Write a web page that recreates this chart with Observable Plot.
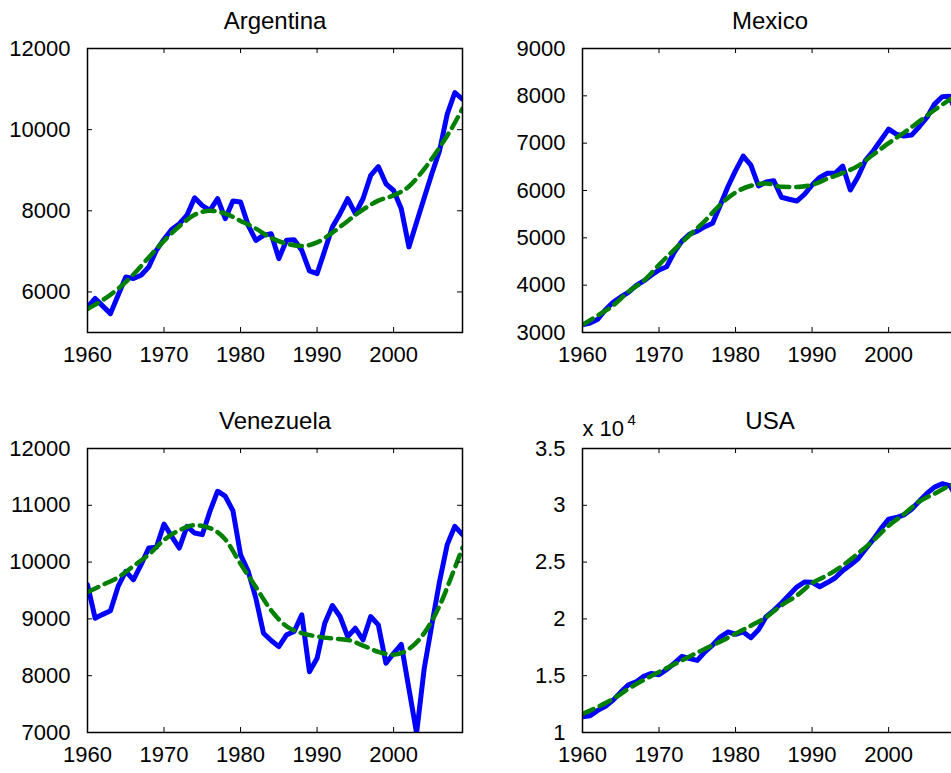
<!DOCTYPE html>
<html>
<head>
<meta charset="utf-8">
<script src="https://cdn.jsdelivr.net/npm/d3@7"></script>
<script src="https://cdn.jsdelivr.net/npm/@observablehq/plot@0.6"></script>
<style>
  html, body { margin: 0; padding: 0; background: #fff; overflow: hidden; width: 951px; height: 773px; }
  #chart { position: relative; width: 951px; height: 773px; overflow: hidden; }
  .panel { position: absolute; }
</style>
</head>
<body>
<div id="chart"></div>
<script>
// Real GDP per capita, 1960–2009 (blue), with smooth trend (green dashed)
const years = [
  1960, 1961, 1962, 1963, 1964, 1965, 1966, 1967, 1968, 1969,
  1970, 1971, 1972, 1973, 1974, 1975, 1976, 1977, 1978, 1979,
  1980, 1981, 1982, 1983, 1984, 1985, 1986, 1987, 1988, 1989,
  1990, 1991, 1992, 1993, 1994, 1995, 1996, 1997, 1998, 1999,
  2000, 2001, 2002, 2003, 2004, 2005, 2006, 2007, 2008, 2009
];

const argentina = [
  5620, 5840, 5650, 5465, 5920, 6370, 6330, 6410, 6615, 7026,
  7300, 7540, 7680, 7890, 8320, 8130, 8010, 8300, 7805, 8240,
  8215, 7640, 7270, 7395, 7436, 6822, 7272, 7288, 7026, 6517,
  6452, 7020, 7600, 7929, 8297, 7929, 8297, 8870, 9090, 8665,
  8500, 8050, 7110, 7715, 8320, 8918, 9480, 10380, 10915, 10750
];

const mexico = [
  3160, 3200, 3280, 3480, 3640, 3750, 3850, 3990, 4090, 4210,
  4320, 4390, 4700, 4930, 5080, 5140, 5236, 5308, 5690, 6080,
  6420, 6728, 6538, 6095, 6180, 6207, 5857, 5815, 5778, 5920,
  6116, 6278, 6363, 6363, 6517, 6010, 6291, 6643, 6840, 7066,
  7297, 7192, 7150, 7171, 7346, 7544, 7825, 7980, 7990, 7550
];

const venezuela = [
  9600, 9012, 9080, 9142, 9571, 9836, 9689, 9954, 10248, 10260,
  10670, 10453, 10248, 10630, 10512, 10483, 10895, 11248, 11160, 10907,
  10130, 9836, 9365, 8747, 8620, 8512, 8719, 8777, 9071, 8071,
  8306, 8924, 9236, 9042, 8689, 8835, 8630, 9042, 8895, 8218,
  8394, 8553, 7770, 6990, 8130, 8900, 9660, 10307, 10630, 10483
];

const usa = [
  11380, 11470, 11950, 12300, 12850, 13550, 14200, 14450, 14950, 15200,
  15080, 15550, 16100, 16700, 16500, 16350, 17100, 17700, 18400, 18850,
  18650, 18850, 18350, 19050, 20200, 20750, 21400, 22100, 22800, 23250,
  23220, 22830, 23200, 23600, 24250, 24750, 25300, 26150, 27000, 27950,
  28780, 28920, 29150, 29650, 30350, 31050, 31600, 31900, 31720, 30600
];

// Trend values, every second year plus the final year
const trendYears = [
  1960, 1962, 1964, 1966, 1968, 1970, 1972, 1974, 1976, 1978, 1980, 1982, 1984,
  1986, 1988, 1990, 1992, 1994, 1996, 1998, 2000, 2002, 2004, 2006, 2008, 2009
];

const argentinaTrend = [
  5580, 5800, 6080, 6430, 6850, 7260, 7620, 7900, 8000, 7930, 7750, 7560, 7330,
  7190, 7130, 7220, 7460, 7750, 8030, 8250, 8380, 8600, 9030, 9560, 10170, 10520
];

const mexicoTrend = [
  3160, 3360, 3570, 3860, 4090, 4430, 4750, 5060, 5360, 5700, 5960, 6100, 6150,
  6080, 6075, 6120, 6250, 6370, 6520, 6760, 7000, 7220, 7460, 7700, 7920, 8020
];

const venezuelaTrend = [
  9470, 9600, 9730, 9930, 10130, 10390, 10560, 10650, 10600, 10400, 9970, 9560, 9150,
  8870, 8750, 8690, 8655, 8630, 8530, 8420, 8370, 8470, 8750, 9230, 9900, 10250
];

const usaTrend = [
  11620, 12250, 12950, 13850, 14620, 15330, 16000, 16700, 17360, 18000, 18700, 19400, 20150,
  21200, 22050, 23150, 23850, 24700, 25760, 26900, 28200, 29220, 30330, 31030, 31720, 31950
];

const xTicks = [1960, 1970, 1980, 1990, 2000];

const argentinaTicks = [6000, 8000, 10000, 12000];
const mexicoTicks = [3000, 4000, 5000, 6000, 7000, 8000, 9000];
const venezuelaTicks = [7000, 8000, 9000, 10000, 11000, 12000];
const usaTicks = [10000, 15000, 20000, 25000, 30000, 35000];

const panels = [
  {title: "Argentina", values: argentina, trend: argentinaTrend, domain: [5000, 12000], ticks: argentinaTicks, left: 0, top: 0},
  {title: "Mexico", values: mexico, trend: mexicoTrend, domain: [3000, 9000], ticks: mexicoTicks, left: 495, top: 0},
  {title: "Venezuela", values: venezuela, trend: venezuelaTrend, domain: [7000, 12000], ticks: venezuelaTicks, left: 0, top: 400},
  {title: "USA", values: usa, trend: usaTrend, domain: [10000, 35000], ticks: usaTicks, left: 495, top: 400, scaled: true}
];

const FONT = "'Liberation Sans', Arial, Helvetica, sans-serif";
const W = 375, H = 284;
const ML = 87, MR = 13, MT = 48, MB = 44;

function panelPlot(p) {
  const series = years.map((year, i) => ({year, value: p.values[i]}));
  const trend = trendYears.map((year, i) => ({year, value: p.trend[i]}));
  const yFormat = p.scaled ? (d => String(d / 1e4)) : (d => String(d));
  const marks = [
    Plot.line(series, {x: "year", y: "value", stroke: "#0000ff", strokeWidth: 5, strokeLinejoin: "round", clip: true}),
    Plot.line(trend, {x: "year", y: "value", stroke: "#008000", strokeWidth: 4.5, strokeDasharray: "12,7", curve: "monotone-x", clip: true}),
    // inward ticks on all four sides of the box
    Plot.tickX(xTicks, {x: d => d, insetTop: H - 5, stroke: "black", strokeWidth: 1}),
    Plot.tickX(xTicks, {x: d => d, insetBottom: H - 5, stroke: "black", strokeWidth: 1}),
    Plot.tickY(p.ticks, {y: d => d, insetRight: W - 5, stroke: "black", strokeWidth: 1}),
    Plot.tickY(p.ticks, {y: d => d, insetLeft: W - 5, stroke: "black", strokeWidth: 1}),
    Plot.frame({stroke: "black", strokeWidth: 1.5}),
    Plot.axisX(xTicks, {tickSize: 0, tickPadding: 14, tickFormat: d => String(d), label: null, fontSize: 22, fill: "black"}),
    Plot.axisY(p.ticks, {tickSize: 0, tickPadding: 17, tickFormat: yFormat, label: null, fontSize: 22, fill: "black"}),
    Plot.text([p.title], {frameAnchor: "top", lineAnchor: "bottom", dy: -20, fontSize: 24, fill: "black"})
  ];
  if (p.scaled) {
    marks.push(Plot.text(["x 10"], {frameAnchor: "top-left", textAnchor: "start", lineAnchor: "bottom", dy: -13, fontSize: 22, fill: "black"}));
    marks.push(Plot.text(["4"], {frameAnchor: "top-left", textAnchor: "start", lineAnchor: "bottom", dx: 45, dy: -24, fontSize: 15, fill: "black"}));
  }
  return Plot.plot({
    width: ML + W + MR,
    height: MT + H + MB,
    marginLeft: ML, marginRight: MR, marginTop: MT, marginBottom: MB,
    style: {fontFamily: FONT, fontSize: "22px", background: "white", color: "black", overflow: "visible"},
    x: {domain: [1960, 2009], axis: null},
    y: {domain: p.domain, axis: null},
    marks
  });
}

const chart = document.getElementById("chart");
for (const p of panels) {
  const svg = panelPlot(p);
  svg.classList.add("panel");
  svg.style.left = p.left + "px";
  svg.style.top = p.top + "px";
  chart.appendChild(svg);
}
</script>
</body>
</html>
